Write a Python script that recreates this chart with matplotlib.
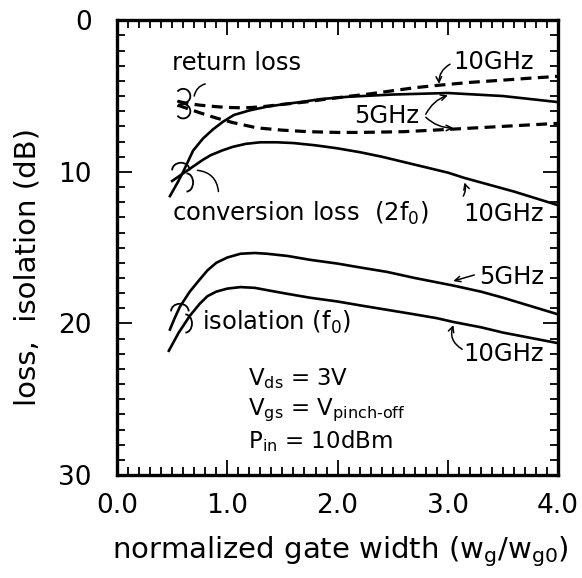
import matplotlib
matplotlib.use('Agg')
import matplotlib.pyplot as plt
from matplotlib.patches import Arc
from matplotlib.ticker import MultipleLocator

plt.rcParams['font.family'] = 'DejaVu Sans'
plt.rcParams['mathtext.default'] = 'regular'

# conversion loss (2f0)
conv_5_x = [0.48, 0.55, 0.6, 0.69, 0.78, 0.87, 0.96, 1.06, 1.2, 1.36, 1.5, 1.66, 1.85, 2.09,
            2.5, 3.0, 3.5, 4.0]
conv_5_y = [11.6, 10.7, 10.0, 8.6, 7.8, 7.2, 6.7, 6.25, 5.95, 5.7, 5.55, 5.4, 5.2, 5.05,
            4.9, 4.8, 5.0, 5.4]
conv_10_x = [0.5, 0.6, 0.7, 0.78, 0.85, 0.95, 1.05, 1.17, 1.3, 1.45, 1.6, 1.8, 2.0, 2.2,
             2.4, 2.6, 2.8, 3.0, 3.15, 3.4, 3.6, 3.8, 4.0]
conv_10_y = [10.6, 10.1, 9.6, 9.2, 8.9, 8.6, 8.35, 8.15, 8.05, 8.05, 8.1, 8.25, 8.45, 8.7,
             9.0, 9.35, 9.7, 10.05, 10.4, 10.9, 11.3, 11.75, 12.2]

# isolation (f0)
iso_5_x = [0.48, 0.52, 0.57, 0.66, 0.75, 0.82, 0.9, 1.0, 1.12, 1.25, 1.36, 1.55, 1.75, 2.0,
           2.2, 2.45, 2.7, 3.05, 3.3, 3.5, 3.75, 4.0]
iso_5_y = [20.4, 19.7, 18.9, 17.9, 17.1, 16.5, 16.0, 15.65, 15.4, 15.35, 15.4, 15.55, 15.8, 16.05,
           16.3, 16.6, 17.0, 17.5, 17.9, 18.3, 18.85, 19.4]
iso_10_x = [0.47, 0.56, 0.66, 0.75, 0.82, 0.9, 1.0, 1.12, 1.25, 1.36, 1.55, 1.75, 2.0, 2.2,
            2.45, 2.7, 2.9, 3.05, 3.3, 3.5, 3.75, 4.0]
iso_10_y = [21.8, 20.6, 19.5, 18.7, 18.2, 17.9, 17.7, 17.6, 17.65, 17.8, 18.05, 18.3, 18.55, 18.8,
            19.1, 19.4, 19.65, 19.9, 20.25, 20.6, 20.95, 21.3]

# return loss
rl_10_x = [0.55, 0.65, 0.75, 0.9, 1.0, 1.15, 1.3, 1.5, 1.7, 1.9, 2.1, 2.3, 2.5, 2.7, 2.9,
           3.2, 3.5, 3.75, 4.0]
rl_10_y = [5.35, 5.5, 5.6, 5.7, 5.75, 5.78, 5.72, 5.55, 5.4, 5.2, 5.02, 4.85, 4.65, 4.45, 4.3,
           4.1, 3.95, 3.82, 3.7]
rl_5_x = [0.55, 0.65, 0.75, 0.9, 1.05, 1.27, 1.5, 1.73, 2.0, 2.2, 2.6, 3.0, 3.5, 4.0]
rl_5_y = [5.6, 5.85, 6.1, 6.45, 6.75, 7.1, 7.25, 7.35, 7.4, 7.4, 7.35, 7.2, 7.0, 6.8]

x_ticks = [0, 1, 2, 3, 4]
x_labels = ['0.0', '1.0', '2.0', '3.0', '4.0']
y_ticks = [0, 10, 20, 30]

fig = plt.figure(figsize=(5.82, 5.78), dpi=100)
ax = fig.add_axes([0.201, 0.178, 0.758, 0.787])

lw = 1.9
ax.plot(conv_5_x, conv_5_y, color='black', lw=lw)
ax.plot(conv_10_x, conv_10_y, color='black', lw=lw)
ax.plot(iso_5_x, iso_5_y, color='black', lw=lw)
ax.plot(iso_10_x, iso_10_y, color='black', lw=lw)
ax.plot(rl_10_x, rl_10_y, color='black', lw=2.3, dashes=(3.4, 2.0))
ax.plot(rl_5_x, rl_5_y, color='black', lw=2.3, dashes=(3.4, 2.0))

ax.set_xlim(0, 4)
ax.set_ylim(30, 0)
ax.set_xticks(x_ticks)
ax.set_xticklabels(x_labels)
ax.set_yticks(y_ticks)
ax.xaxis.set_minor_locator(MultipleLocator(0.1))
ax.yaxis.set_minor_locator(MultipleLocator(1))
ax.tick_params(which='both', direction='in', top=True, right=True, width=1.3)
ax.tick_params(which='major', length=11, labelsize=19)
ax.tick_params(axis='x', which='major', pad=13)
ax.tick_params(axis='y', which='major', pad=18)
ax.tick_params(which='minor', length=6)
for s in ax.spines.values():
    s.set_linewidth(2.4)

fig.text(0.585, 0.045, 'normalized gate width (w$_g$/w$_{g0}$)', ha='center', va='center', fontsize=21)
fig.text(0.048, 0.538, 'loss,  isolation (dB)', ha='center', va='center', rotation=90, fontsize=21)

fs = 17.5
ax.text(0.5, 2.8, 'return loss', fontsize=fs, va='center')
ax.text(3.05, 2.75, '10GHz', fontsize=fs, va='center')
ax.text(2.15, 6.3, '5GHz', fontsize=fs, va='center')
ax.text(0.5, 12.75, 'conversion loss  (2f$_0$)', fontsize=fs, va='center')
ax.text(3.14, 12.8, '10GHz', fontsize=fs, va='center')
ax.text(3.28, 16.95, '5GHz', fontsize=fs, va='center')
ax.text(0.77, 19.95, 'isolation (f$_0$)', fontsize=fs, va='center')
ax.text(3.14, 22.0, '10GHz', fontsize=fs, va='center')
ax.text(1.19, 23.6, 'V$_{ds}$ = 3V', fontsize=16.5, va='center')
ax.text(1.19, 25.7, 'V$_{gs}$ = V$_{pinch\u2010off}$', fontsize=16.5, va='center')
ax.text(1.19, 27.75, 'P$_{in}$ = 10dBm', fontsize=16.5, va='center')

arrow = dict(arrowstyle='->', color='black', lw=1.1, shrinkA=0, shrinkB=0)
ax.annotate('', xy=(2.92, 4.2), xytext=(3.02, 2.9),
            arrowprops=dict(arrow, connectionstyle='arc3,rad=0.3'))
ax.annotate('', xy=(3.0, 4.95), xytext=(2.8, 6.2),
            arrowprops=dict(arrow, connectionstyle='arc3,rad=-0.2'))
ax.annotate('', xy=(3.05, 7.1), xytext=(2.8, 6.4),
            arrowprops=dict(arrow, connectionstyle='arc3,rad=0.2'))
ax.annotate('', xy=(3.15, 10.7), xytext=(3.14, 11.6),
            arrowprops=dict(arrow, connectionstyle='arc3,rad=0.2'))
ax.annotate('', xy=(3.05, 17.2), xytext=(3.24, 16.8),
            arrowprops=dict(arrow, connectionstyle='arc3,rad=0.0'))
ax.annotate('', xy=(3.05, 20.1), xytext=(3.13, 21.7),
            arrowprops=dict(arrow, connectionstyle='arc3,rad=-0.4'))

# hand-drawn braces grouping the curves
lead = dict(arrowstyle='-', color='black', lw=1.1, shrinkA=0, shrinkB=0)
ax.add_patch(Arc((0.6, 5.0), 0.13, 0.95, theta1=-100, theta2=100, color='black', lw=1.3))
ax.add_patch(Arc((0.6, 6.0), 0.13, 0.95, theta1=-100, theta2=100, color='black', lw=1.3))
ax.annotate('', xy=(0.8, 4.2), xytext=(0.7, 5.0),
            arrowprops=dict(lead, connectionstyle='arc3,rad=-0.3'))
ax.add_patch(Arc((0.58, 9.9), 0.16, 1.0, theta1=180, theta2=360, color='black', lw=1.3))
ax.add_patch(Arc((0.63, 10.7), 0.12, 1.2, theta1=-90, theta2=90, color='black', lw=1.3))
ax.annotate('', xy=(0.92, 11.3), xytext=(0.73, 9.9),
            arrowprops=dict(lead, connectionstyle='arc3,rad=-0.4'))
ax.add_patch(Arc((0.57, 19.2), 0.16, 1.0, theta1=180, theta2=360, color='black', lw=1.3))
ax.add_patch(Arc((0.62, 20.0), 0.12, 1.2, theta1=-90, theta2=90, color='black', lw=1.3))

fig.savefig('out.png', dpi=100)
